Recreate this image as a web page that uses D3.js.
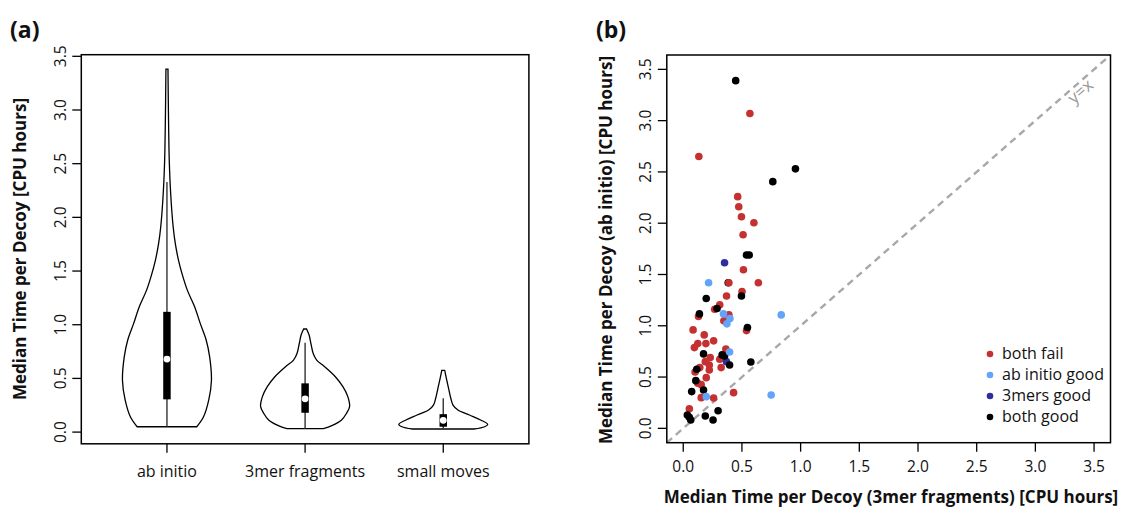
<!DOCTYPE html>
<html><head><meta charset="utf-8">
<script src="https://cdn.jsdelivr.net/npm/d3@7"></script>
<style>
body{margin:0;background:#fff}
svg{display:block}
text{font-family:'Open Sans',sans-serif;fill:#111}
</style>
</head><body>
<svg id="chart" width="1122" height="507"></svg>
<script>
// ---------------- DATA ----------------
const categories = ["ab initio", "3mer fragments", "small moves"];
const tickValues = [0, 0.5, 1, 1.5, 2, 2.5, 3, 3.5];
const tickLabels = ["0.0", "0.5", "1.0", "1.5", "2.0", "2.5", "3.0", "3.5"];

// violin density profiles (value, relative density)
const abInitioLevels  = [0.05,0.14,0.30,0.48,0.70,0.86,1.01,1.17,1.32,1.46,1.60,1.75,1.91,2.22,2.53,2.84,3.10,3.38];
const abInitioDensity = [0.67,0.82,0.94,1.00,0.96,0.88,0.75,0.62,0.46,0.35,0.26,0.19,0.14,0.084,0.052,0.038,0.03,0.023];
const mer3Levels  = [0.032,0.06,0.113,0.175,0.237,0.33,0.423,0.516,0.609,0.671,0.734,0.827,0.904,0.96];
const mer3Density = [0.41,0.6,0.82,0.93,1.0,0.96,0.85,0.68,0.44,0.26,0.18,0.13,0.09,0.033];
const smallLevels  = [0.029,0.05,0.072,0.113,0.159,0.206,0.252,0.315,0.408,0.5,0.575];
const smallDensity = [0.69,0.93,1.0,0.84,0.59,0.33,0.22,0.17,0.12,0.07,0.033];

// box summaries per category
const whiskerLow  = [0.05, 0.032, 0.029];
const quartile1   = [0.305, 0.18, 0.05];
const medians     = [0.68, 0.31, 0.11];
const quartile3   = [1.12, 0.454, 0.167];
const whiskerHigh = [2.33, 0.832, 0.316];

// scatter groups [3mer fragments, ab initio]
const bothFail = [[0.568,3.07],[0.133,2.65],[0.464,2.259],[0.473,2.161],[0.496,2.063],[0.602,2.005],[0.51,1.888],
  [0.513,1.546],[0.389,1.419],[0.64,1.419],[0.501,1.334],[0.369,1.29],[0.311,1.204],[0.268,1.161],[0.389,1.106],
  [0.13,1.09],[0.346,1.048],[0.539,0.953],[0.084,0.96],[0.179,0.911],[0.259,0.853],[0.124,0.826],[0.193,0.826],
  [0.095,0.787],[0.363,0.774],[0.23,0.69],[0.311,0.674],[0.188,0.65],[0.222,0.618],[0.141,0.592],[0.323,0.592],
  [0.222,0.569],[0.101,0.55],[0.196,0.494],[0.124,0.439],[0.153,0.426],[0.429,0.348],[0.153,0.299],[0.259,0.296],[0.052,0.191]];
const abInitioGood = [[0.216,1.42],[0.835,1.106],[0.343,1.116],[0.398,1.07],[0.372,1.019],[0.395,0.745],[0.196,0.309],[0.749,0.325]];
const mersGood = [[0.352,1.614],[0.368,0.65]];
const bothGood = [[0.447,3.39],[0.956,2.53],[0.763,2.405],[0.539,1.69],[0.562,1.69],[0.496,1.29],[0.196,1.266],
  [0.288,1.168],[0.138,1.116],[0.547,0.983],[0.173,0.726],[0.331,0.716],[0.352,0.706],[0.395,0.618],[0.576,0.647],
  [0.115,0.576],[0.107,0.465],[0.072,0.358],[0.173,0.374],[0.035,0.13],[0.052,0.107],[0.064,0.081],[0.188,0.12],
  [0.254,0.081],[0.297,0.172]];
const hiddenBehind = [[0.383,1.419]]; // both good, drawn under red
const legendLabels = ["both fail", "ab initio good", "3mers good", "both good"];
const groupColors = ["#c53131", "#62a4fb", "#2f2f9c", "#000000"];

// ---------------- DRAW ----------------
const svg = d3.select("#chart");
const TICK = 9;

// ===== Panel (a) =====
const xA = d3.scaleLinear().domain([0.38, 3.62]).range([81.3, 528.9]);
const yA = d3.scaleLinear().domain([-0.109, 3.515]).range([443.8, 54.7]);
const gA = svg.append("g");

const violins = [
  {levels: abInitioLevels, dens: abInitioDensity},
  {levels: mer3Levels, dens: mer3Density},
  {levels: smallLevels, dens: smallDensity}
];
const halfW = d3.scaleLinear().domain([0, 1]).range([0, xA(1.322) - xA(1)]);

violins.forEach((v, i) => {
  const cx = xA(i + 1);
  const pts = v.levels.map((l, k) => ({v: l, d: v.dens[k]}));
  const area = d3.area()
    .y(d => yA(d.v))
    .x0(d => cx - halfW(d.d))
    .x1(d => cx + halfW(d.d))
    .curve(d3.curveCatmullRom.alpha(0.5));
  gA.append("path").attr("d", area(pts))
    .attr("fill", "#fff").attr("stroke", "#000").attr("stroke-width", 1.3);
  gA.append("line")
    .attr("x1", cx).attr("x2", cx)
    .attr("y1", yA(whiskerLow[i])).attr("y2", yA(whiskerHigh[i]))
    .attr("stroke", "#333").attr("stroke-width", 1.4);
  const bw = xA(1.027) - xA(1);
  gA.append("rect")
    .attr("x", cx - bw).attr("width", 2 * bw)
    .attr("y", yA(quartile3[i])).attr("height", yA(quartile1[i]) - yA(quartile3[i]))
    .attr("fill", "#000");
  gA.append("circle").attr("cx", cx).attr("cy", yA(medians[i])).attr("r", 3.4).attr("fill", "#fff");
});

// frame
gA.append("rect").attr("x", xA.range()[0]).attr("y", yA.range()[1])
  .attr("width", xA.range()[1] - xA.range()[0]).attr("height", yA.range()[0] - yA.range()[1])
  .attr("fill", "none").attr("stroke", "#000").attr("stroke-width", 1.5);

// y axis
tickValues.forEach((t, i) => {
  gA.append("line").attr("x1", xA.range()[0]).attr("x2", xA.range()[0] - TICK)
    .attr("y1", yA(t)).attr("y2", yA(t)).attr("stroke", "#000").attr("stroke-width", 1.3);
  gA.append("text").attr("transform", `translate(66,${yA(t)}) rotate(-90)`)
    .attr("text-anchor", "middle").attr("font-size", 15.5).text(tickLabels[i]);
});
// x axis
categories.forEach((c, i) => {
  gA.append("line").attr("x1", xA(i + 1)).attr("x2", xA(i + 1))
    .attr("y1", yA.range()[0]).attr("y2", yA.range()[0] + TICK).attr("stroke", "#000").attr("stroke-width", 1.3);
  gA.append("text").attr("x", xA(i + 1)).attr("y", 477).attr("text-anchor", "middle")
    .attr("font-size", 16).text(c);
});
gA.append("text").attr("transform", "translate(26,249) rotate(-90)")
  .attr("text-anchor", "middle").attr("font-size", 17).attr("font-weight", "bold")
  .text("Median Time per Decoy [CPU hours]");
svg.append("text").attr("x", 10).attr("y", 38).attr("font-size", 23).attr("font-weight", "bold").text("(a)");

// ===== Panel (b) =====
const xB = d3.scaleLinear().domain([-0.14, 3.64]).range([666.8, 1110.5]);
const yB = d3.scaleLinear().domain([-0.14, 3.64]).range([442.7, 55]);
const gB = svg.append("g");

gB.append("line")
  .attr("x1", xB(-0.14)).attr("y1", yB(-0.14)).attr("x2", xB(3.64)).attr("y2", yB(3.64))
  .attr("stroke", "#a8a8a8").attr("stroke-width", 2.4).attr("stroke-dasharray", "7,5");
const ang = Math.atan2(yB(0) - yB(1), xB(1) - xB(0)) * 180 / Math.PI;
gB.append("text").attr("transform", `translate(${xB(3.38)},${yB(3.29)}) rotate(${-ang})`)
  .attr("text-anchor", "middle").attr("dominant-baseline", "central")
  .attr("font-size", 17).style("fill", "#9a9a9a").text("y=x");

const R = 3.8;
function dots(data, color) {
  gB.selectAll(null).data(data).enter().append("circle")
    .attr("cx", d => xB(d[0])).attr("cy", d => yB(d[1])).attr("r", R).attr("fill", color);
}
dots(hiddenBehind, groupColors[3]);
dots(bothFail, groupColors[0]);
dots(mersGood, groupColors[2]);
dots(bothGood, groupColors[3]);
dots(abInitioGood, groupColors[1]);

gB.append("rect").attr("x", xB.range()[0]).attr("y", yB.range()[1])
  .attr("width", xB.range()[1] - xB.range()[0]).attr("height", yB.range()[0] - yB.range()[1])
  .attr("fill", "none").attr("stroke", "#000").attr("stroke-width", 1.5);

tickValues.forEach((t, i) => {
  gB.append("line").attr("x1", xB.range()[0]).attr("x2", xB.range()[0] - TICK)
    .attr("y1", yB(t)).attr("y2", yB(t)).attr("stroke", "#000").attr("stroke-width", 1.3);
  gB.append("text").attr("transform", `translate(651,${yB(t)}) rotate(-90)`)
    .attr("text-anchor", "middle").attr("font-size", 15.5).text(tickLabels[i]);
  gB.append("line").attr("x1", xB(t)).attr("x2", xB(t))
    .attr("y1", yB.range()[0]).attr("y2", yB.range()[0] + TICK).attr("stroke", "#000").attr("stroke-width", 1.3);
  gB.append("text").attr("x", xB(t)).attr("y", 472).attr("text-anchor", "middle")
    .attr("font-size", 15.5).text(tickLabels[i]);
});
gB.append("text").attr("transform", "translate(612,250) rotate(-90)")
  .attr("text-anchor", "middle").attr("font-size", 17).attr("font-weight", "bold")
  .text("Median Time per Decoy (ab initio) [CPU hours]");
gB.append("text").attr("x", 891).attr("y", 503)
  .attr("text-anchor", "middle").attr("font-size", 17).attr("font-weight", "bold")
  .text("Median Time per Decoy (3mer fragments) [CPU hours]");
svg.append("text").attr("x", 596).attr("y", 38).attr("font-size", 23).attr("font-weight", "bold").text("(b)");

// legend
const leg = gB.append("g");
legendLabels.forEach((l, i) => {
  const y = 354 + i * 21;
  leg.append("circle").attr("cx", 990).attr("cy", y).attr("r", 3.3).attr("fill", groupColors[i]);
  leg.append("text").attr("x", 1002).attr("y", y + 5).attr("font-size", 16).text(l);
});
</script>
</body></html>
